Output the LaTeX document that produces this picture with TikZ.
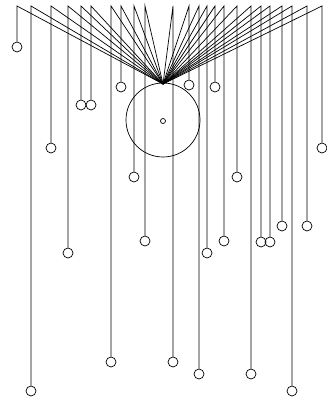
\documentclass[tikz,border=0pt]{standalone}
\usetikzlibrary{positioning}

\begin{document}
\begin{tikzpicture}[x=1pt, y=-1pt, line width=0.7pt,
  leaf/.style={circle, draw, inner sep=0pt, minimum size=10pt},
  disc/.style={circle, draw, inner sep=0pt, minimum size=74pt}]
\path[use as bounding box] (0,0) rectangle (326,406);
\coordinate (hub) at (163,84);
\node[disc] (wheel) at (163,120) {};
\node[circle, draw, inner sep=0pt, minimum size=5pt] (axle) at (163,121) {};
% leaves: x of the stem / y of the ball
\foreach \x/\y [count=\i] in {17/47, 31/391, 51/148, 68/253, 81/105, 91/105,
    111/362, 121/87, 134/177, 145/241, 173/362, 189/85, 199/374, 207/253,
    215/87, 224/241, 237/177, 251/374, 261/242, 270/242, 282/226, 292/391,
    307/226, 322/148} {
  \coordinate (t\i) at (\x,6);
  \node[leaf] (l\i) at (\x,\y) {};
  \draw (hub) -- (t\i) -- (l\i);
}
\end{tikzpicture}
\end{document}
